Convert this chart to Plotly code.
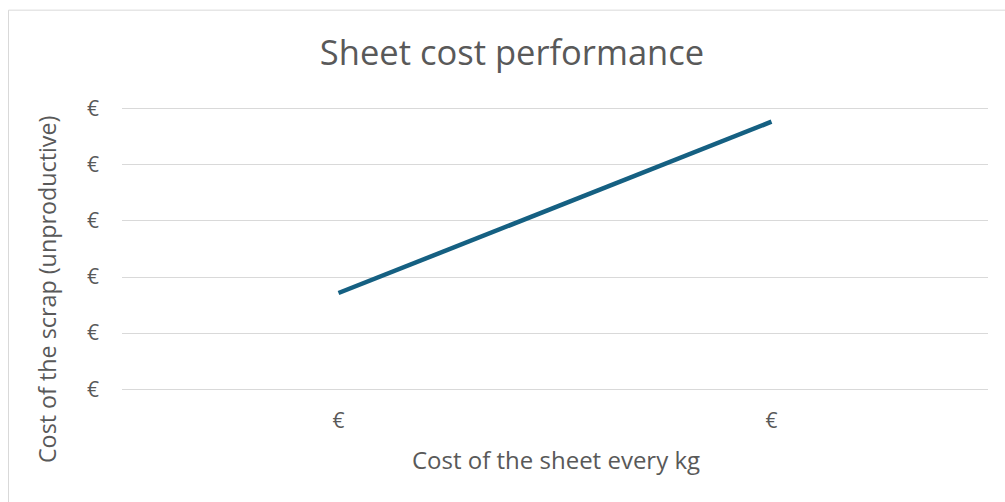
import plotly.graph_objects as go

# Chart data
categories = ["€", "€"]                 # cost of the sheet per kg (category labels)
scrap_cost = [0.343, 0.954]             # cost of the scrap (unproductive)
y_tick_values = [0, 0.2, 0.4, 0.6, 0.8, 1.0]
y_tick_labels = ["€", "€", "€", "€", "€", "€"]

W, H = 1005, 502
FONT = "Open Sans"
GREY = "#595959"
GRID = "#d9d9d9"

# plot area in pixels: gridlines from y=109 (top) to y=389 (bottom), x from 122 to 988
PX_LEFT, PX_RIGHT, PX_TOP, PX_BOTTOM = 122, 988, 109, 389
Y_MIN, Y_MAX = 0.0, 1.0
PAD = 0.01  # small headroom so the edge gridlines are drawn
unit = (PX_BOTTOM - PX_TOP) / (Y_MAX - Y_MIN)
T = PX_TOP - PAD * unit
B = H - (PX_BOTTOM + PAD * unit)
L, R = PX_LEFT, W - PX_RIGHT

x_pos = list(range(len(categories)))

fig = go.Figure()
fig.add_trace(go.Scatter(
    x=x_pos, y=scrap_cost, mode="lines",
    line=dict(color="#156082", width=4.5),
    hoverinfo="skip", showlegend=False,
))

plot_w = W - L - R
plot_h = H - T - B


def px_x(p):
    return (p - L) / plot_w


def px_y(p):
    return (H - B - p) / plot_h


fig.update_layout(
    width=W, height=H,
    margin=dict(l=L, r=R, t=T, b=B, pad=0),
    paper_bgcolor="white", plot_bgcolor="white",
    font=dict(family=FONT, color=GREY),
    title=dict(text="Sheet cost performance", x=512 / W, xref="container", xanchor="center",
               y=1 - 53 / H, yref="container", yanchor="middle",
               font=dict(size=34.5, color=GREY, family=FONT)),
    xaxis=dict(range=[-0.5, len(categories) - 0.5], tickvals=x_pos, ticktext=categories,
               showgrid=False, zeroline=False, showline=False, ticks="",
               ticklabelstandoff=14, tickfont=dict(size=21, color=GREY)),
    yaxis=dict(range=[Y_MIN - PAD, Y_MAX + PAD], tickvals=y_tick_values, ticktext=y_tick_labels,
               showgrid=True, gridcolor=GRID, gridwidth=1, zeroline=False, showline=False,
               ticks="", ticklabelstandoff=22, tickfont=dict(size=21, color=GREY)),
    shapes=[
        # chart area border (top and left edges)
        dict(type="line", xref="paper", yref="paper", x0=px_x(8.5), x1=px_x(W + 20),
             y0=px_y(10.5), y1=px_y(10.5), line=dict(color=GRID, width=1)),
        dict(type="line", xref="paper", yref="paper", x0=px_x(8.5), x1=px_x(8.5),
             y0=px_y(10.5), y1=px_y(H + 20), line=dict(color=GRID, width=1)),
    ],
    annotations=[
        dict(text="Cost of the sheet every kg", xref="paper", yref="paper",
             x=px_x(555.5), y=px_y(459), xanchor="center", yanchor="middle",
             showarrow=False, font=dict(size=24, color=GREY, family=FONT)),
        dict(text="Cost of the scrap (unproductive)", xref="paper", yref="paper",
             x=px_x(47), y=px_y(289), xanchor="center", yanchor="middle", textangle=-90,
             showarrow=False, font=dict(size=23.3, color=GREY, family=FONT)),
    ],
)

fig.write_html("out.html")
